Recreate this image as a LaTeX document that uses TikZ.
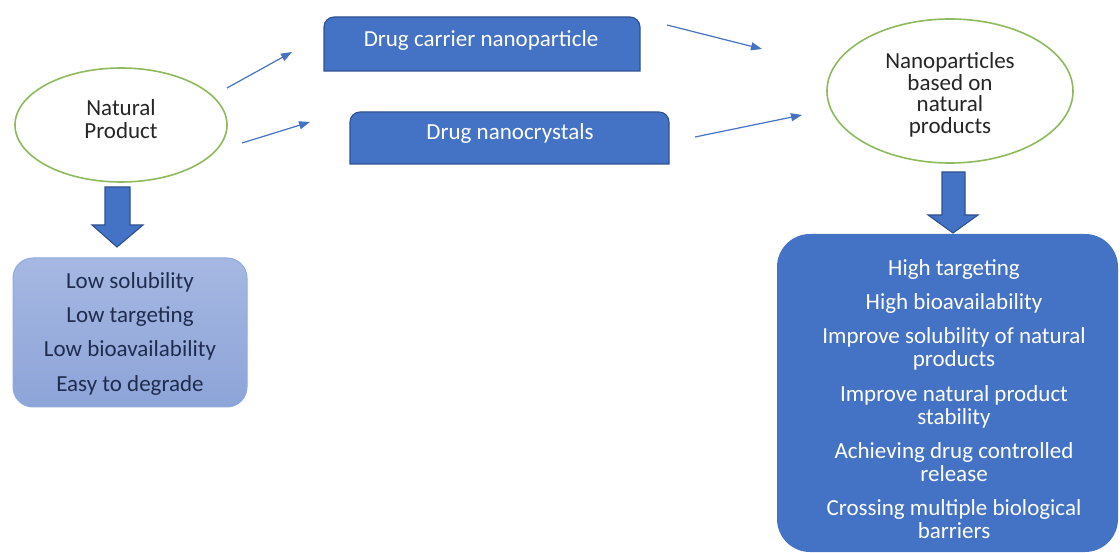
\documentclass[tikz,border=0pt]{standalone}
\usepackage{fontspec}
\setmainfont{Carlito}
\usetikzlibrary{arrows.meta}

\definecolor{accent}{HTML}{4472C4}
\definecolor{accentdark}{HTML}{2F528F}
\definecolor{leaf}{HTML}{8DBA5E}
\definecolor{paletop}{HTML}{A6B8E2}
\definecolor{palebottom}{HTML}{8DA4D8}
\definecolor{paleedge}{HTML}{8FAADC}
\definecolor{navy}{HTML}{1F2C4E}
\definecolor{ink}{HTML}{262626}

\tikzset{
  label text/.style={font=\fontsize{23}{23}\selectfont, align=center, inner sep=0pt},
  dark text/.style={label text, text=ink},
  light text/.style={label text, text=white},
  oval/.style={draw=leaf, line width=1.6pt, fill=white},
  tab box/.style={fill=accent, draw=accentdark, line width=1.1pt},
  thin arrow/.style={draw=accent, line width=1.2pt, -{Triangle[length=11pt,width=8pt]}},
  block arrow/.style={fill=accent, draw=accentdark, line width=1.1pt, line join=miter},
}

\begin{document}
\begin{tikzpicture}[x=1pt,y=-1pt]
\useasboundingbox (0,0) rectangle (1120,553);

% --- left column: natural product and its drawbacks ---
\draw[oval] (121,125) ellipse [x radius=106, y radius=57];
\node[dark text] (natural) at (121,119) {Natural\\Product};

\draw[block arrow] (105,187) -- (130,187) -- (130,225) -- (143,225)
  -- (117,247) -- (92,225) -- (105,225) -- cycle;

\shade[top color=paletop, bottom color=palebottom, draw=paleedge, line width=1pt,
  rounded corners=20] (13,258) rectangle (247,407);
\node[label text, text=navy, font=\fontsize{23}{23}\selectfont] (drawbacks) at (130,334)
  {Low solubility\\[11pt]Low targeting\\[11pt]Low bioavailability\\[12pt]Easy to degrade};

% --- middle column: the two nanoscale routes ---
\path[tab box] (324,71) [rounded corners=10] -- (324,17) -- (640,17)
  [sharp corners] -- (640,71) -- cycle;
\node[light text] (carrier) at (481,40) {Drug carrier nanoparticle};

\path[tab box] (350,164) [rounded corners=10] -- (350,112) -- (669,112)
  [sharp corners] -- (669,164) -- cycle;
\node[light text] (crystal) at (510,133) {Drug nanocrystals};

% --- right column: nanoparticles and their benefits ---
\draw[oval] (950,91) ellipse [x radius=123, y radius=72];
\node[dark text, font=\fontsize{23}{21.7}\selectfont] (nano) at (950,95)
  {Nanoparticles\\based on\\natural\\products};

\draw[block arrow] (942,172) -- (965,172) -- (965,215) -- (978,215)
  -- (953,233) -- (928,215) -- (942,215) -- cycle;

\fill[accent, rounded corners=33] (777,234) rectangle (1118,552);
\node[light text, font=\fontsize{23}{22.5}\selectfont] (benefits) at (954,399)
  {High targeting\\[11pt]High bioavailability\\[12pt]Improve solubility of natural\\products\\[13pt]Improve natural product\\stability\\[12pt]Achieving drug controlled\\release\\[12pt]Crossing multiple biological\\barriers};

% --- free-standing flow arrows ---
\coordinate (a1s) at (227,88);  \coordinate (a1e) at (292,52);
\coordinate (a2s) at (242,143); \coordinate (a2e) at (310,122);
\coordinate (a3s) at (667,25);  \coordinate (a3e) at (762,49);
\coordinate (a4s) at (695,137); \coordinate (a4e) at (802,115);
\draw[thin arrow] (a1s) -- (a1e);
\draw[thin arrow] (a2s) -- (a2e);
\draw[thin arrow] (a3s) -- (a3e);
\draw[thin arrow] (a4s) -- (a4e);
\end{tikzpicture}
\end{document}
